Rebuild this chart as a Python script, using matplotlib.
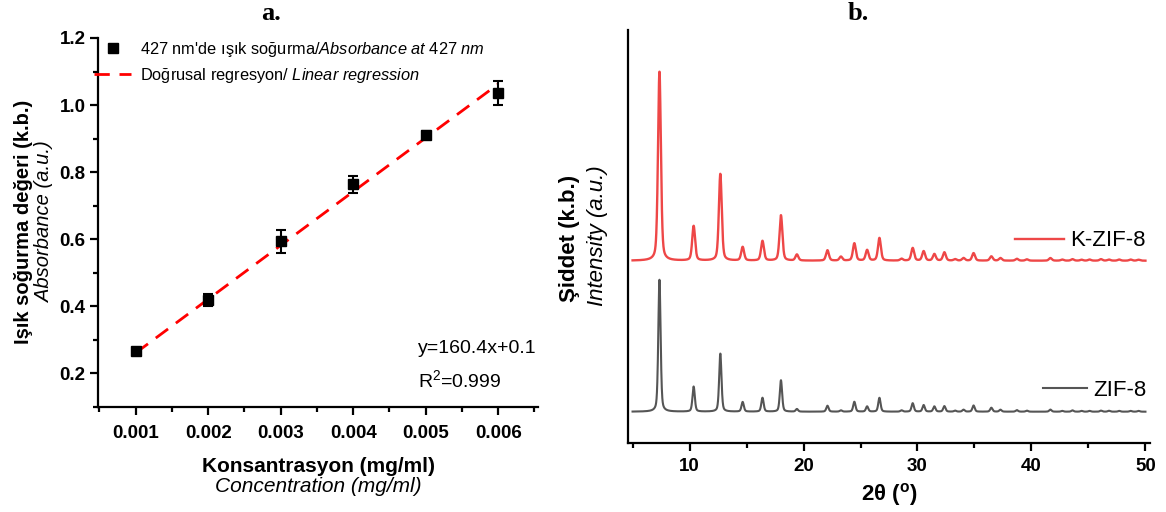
import matplotlib
matplotlib.use("Agg")
import matplotlib.pyplot as plt
from matplotlib.ticker import MultipleLocator, FormatStrFormatter, NullLocator
from matplotlib.lines import Line2D
import numpy as np

plt.rcParams['font.family'] = ['Liberation Sans', 'DejaVu Sans']
plt.rcParams['mathtext.fontset'] = 'custom'
plt.rcParams['mathtext.rm'] = 'Liberation Sans'
plt.rcParams['mathtext.it'] = 'Liberation Sans:italic'
plt.rcParams['mathtext.bf'] = 'Liberation Sans:bold'

# a. calibration data
CONC = [0.001, 0.002, 0.003, 0.004, 0.005, 0.006]
ABS = [0.265, 0.418, 0.593, 0.763, 0.911, 1.035]
ABS_ERR = [0.008, 0.018, 0.035, 0.025, 0.012, 0.036]
SLOPE, INTERCEPT = 160.4, 0.1

# b. XRD peak tables (2theta, relative height)
PEAK_POS = [7.36, 10.36, 12.70, 14.66, 16.40, 18.02, 19.42, 22.10, 23.28, 24.46,
            25.58, 26.66, 28.60, 29.58, 30.54, 31.48, 32.36, 33.30, 34.04, 34.92,
            36.48, 37.28, 38.72, 39.60, 41.66, 42.70, 43.60, 44.40, 45.10, 46.10,
            46.80, 47.70, 48.70, 49.40]
KZIF8_H = [1.0, 0.183, 0.459, 0.072, 0.104, 0.24, 0.032, 0.055, 0.021, 0.092,
           0.056, 0.12, 0.01, 0.067, 0.05, 0.035, 0.044, 0.008, 0.014, 0.04,
           0.023, 0.014, 0.01, 0.007, 0.014, 0.006, 0.008, 0.005, 0.006, 0.008,
           0.006, 0.006, 0.006, 0.005]
ZIF8_H = [1.0, 0.19, 0.44, 0.073, 0.105, 0.238, 0.02, 0.045, 0.01, 0.075,
          0.04, 0.105, 0.01, 0.064, 0.05, 0.04, 0.042, 0.008, 0.015, 0.047,
          0.03, 0.015, 0.012, 0.008, 0.016, 0.006, 0.01, 0.006, 0.006, 0.008,
          0.007, 0.006, 0.006, 0.006]

RED = '#ee4747'
GREY = '#555555'


def pattern(x, heights, fwhm):
    g = fwhm / 2.0
    y = np.zeros_like(x)
    for p, h in zip(PEAK_POS, heights):
        lor = g**2 / ((x - p)**2 + g**2)
        gau = np.exp(-np.log(2) * ((x - p) / g)**2)
        y += h * (0.4 * lor + 0.6 * gau)
    return y


fig = plt.figure(figsize=(11.66, 5.12), dpi=100)

# ---------- a. ----------
ax1 = fig.add_axes([98 / 1166, 1 - 406.7 / 512, 440 / 1166, (406.7 - 38) / 512])
xs = np.array([CONC[0], CONC[-1]])
ax1.plot(xs, SLOPE * xs + INTERCEPT, color='red', lw=2, dashes=(5.5, 3.5), zorder=2)
ax1.errorbar(CONC, ABS, yerr=ABS_ERR, fmt='s', color='black', ms=7, capsize=3.3,
             elinewidth=1.5, capthick=1.5, ls='none', zorder=3)
ax1.set_xlim(0.00048, 0.00655)
ax1.set_ylim(0.1, 1.2)
ax1.xaxis.set_major_locator(MultipleLocator(0.001))
ax1.xaxis.set_minor_locator(MultipleLocator(0.0005))
ax1.xaxis.set_major_formatter(FormatStrFormatter('%.3f'))
ax1.yaxis.set_minor_locator(MultipleLocator(0.1))
ax1.yaxis.set_major_formatter(FormatStrFormatter('%.1f'))
ax1.set_yticks([0.2, 0.4, 0.6, 0.8, 1.0, 1.2])
for s in ['top', 'right']:
    ax1.spines[s].set_visible(False)
for s in ['left', 'bottom']:
    ax1.spines[s].set_linewidth(1.6)
ax1.tick_params(which='major', direction='out', length=6, width=1.6, labelsize=13.5)
ax1.tick_params(axis='x', which='major', pad=7)
ax1.tick_params(axis='y', which='major', pad=3)
ax1.tick_params(which='minor', direction='out', length=3.5, width=1.6)
for lab in ax1.get_xticklabels() + ax1.get_yticklabels():
    lab.set_fontweight('bold')

h_pts = Line2D([], [], ls='none', marker='s', color='black', ms=7)
h_fit = Line2D([], [], color='red', lw=2, dashes=(5.5, 3.5))
ax1.legend([h_pts, h_fit],
           [r"427 nm'de ışık soğurma/$\mathit{Absorbance\ at\ 427\ nm}$",
            r"Doğrusal regresyon/ $\mathit{Linear\ regression}$"],
           loc='upper left', bbox_to_anchor=(-0.008, 0.995), frameon=False,
           fontsize=11.8, handlelength=2.2, handletextpad=0.6,
           labelspacing=0.45, borderpad=0, borderaxespad=0)
ax1.text(0.727, 0.159, "y=160.4x+0.1", transform=ax1.transAxes, ha='left',
         va='center', fontsize=14)
ax1.text(0.727, 0.072, r"R$^2$=0.999", transform=ax1.transAxes, ha='left',
         va='center', fontsize=14)

fig.text(24 / 1166, 1 - 222 / 512, "Işık soğurma değeri (k.b.)", rotation=90,
         ha='center', va='center', fontsize=14.5, fontweight='bold')
fig.text(45 / 1166, 1 - 222 / 512, "Absorbance (a.u.)", rotation=90,
         ha='center', va='center', fontsize=14.5, style='italic')
fig.text(318 / 1166, 1 - 466 / 512, "Konsantrasyon (mg/ml)", ha='center',
         va='center', fontsize=15, fontweight='bold')
fig.text(318 / 1166, 1 - 487 / 512, "Concentration (mg/ml)", ha='center',
         va='center', fontsize=15, style='italic')
fig.text(271 / 1166, 1 - 13 / 512, "a.", ha='center', va='center',
         fontsize=19, fontweight='bold', family='Liberation Serif')

# ---------- b. ----------
ax2 = fig.add_axes([628 / 1166, 1 - 442.7 / 512, 522 / 1166, (442.7 - 30) / 512])
tt = np.linspace(5.0, 50.0, 4000)
red_y = 182 + 189 * pattern(tt, KZIF8_H, 0.30)
blk_y = 31 + 132 * pattern(tt, ZIF8_H, 0.24)
ax2.plot(tt, red_y, color=RED, lw=1.7)
ax2.plot(tt, blk_y, color=GREY, lw=1.5)
ax2.set_xlim(4.6, 50.4)
ax2.set_ylim(0, 412.7)
ax2.xaxis.set_major_locator(MultipleLocator(10))
ax2.xaxis.set_minor_locator(MultipleLocator(5))
ax2.yaxis.set_major_locator(NullLocator())
for s in ['top', 'right']:
    ax2.spines[s].set_visible(False)
for s in ['left', 'bottom']:
    ax2.spines[s].set_linewidth(1.6)
ax2.tick_params(which='major', direction='out', length=6, width=1.6, labelsize=13.5, pad=5)
ax2.tick_params(which='minor', direction='out', length=3.5, width=1.6)
for lab in ax2.get_xticklabels():
    lab.set_fontweight('bold')

xr = (1146 - 628) / 522
leg1 = ax2.legend([Line2D([], [], color=RED, lw=1.7)], ["K-ZIF-8"], loc='center right',
                  bbox_to_anchor=(xr, 1 - (241 - 30) / 412.7), frameon=False,
                  fontsize=16, handlelength=2.2, handletextpad=0.3,
                  borderpad=0, borderaxespad=0)
ax2.add_artist(leg1)
ax2.legend([Line2D([], [], color=GREY, lw=1.5)], ["ZIF-8"], loc='center right',
           bbox_to_anchor=(xr, 1 - (390 - 30) / 412.7), frameon=False,
           fontsize=16, handlelength=2.0, handletextpad=0.25,
           borderpad=0, borderaxespad=0)

fig.text(570 / 1166, 1 - 238 / 512, "Şiddet (k.b.)", rotation=90, ha='center',
         va='center', fontsize=16, fontweight='bold')
fig.text(598 / 1166, 1 - 236 / 512, "Intensity (a.u.)", rotation=90, ha='center',
         va='center', fontsize=16, style='italic')
fig.text(889 / 1166, 1 - 494 / 512, r"2θ ($^{\mathbf{o}}$)", ha='center', va='center',
         fontsize=16, fontweight='bold')
fig.text(858 / 1166, 1 - 13 / 512, "b.", ha='center', va='center',
         fontsize=19, fontweight='bold', family='Liberation Serif')

fig.savefig("out.png", dpi=100)
